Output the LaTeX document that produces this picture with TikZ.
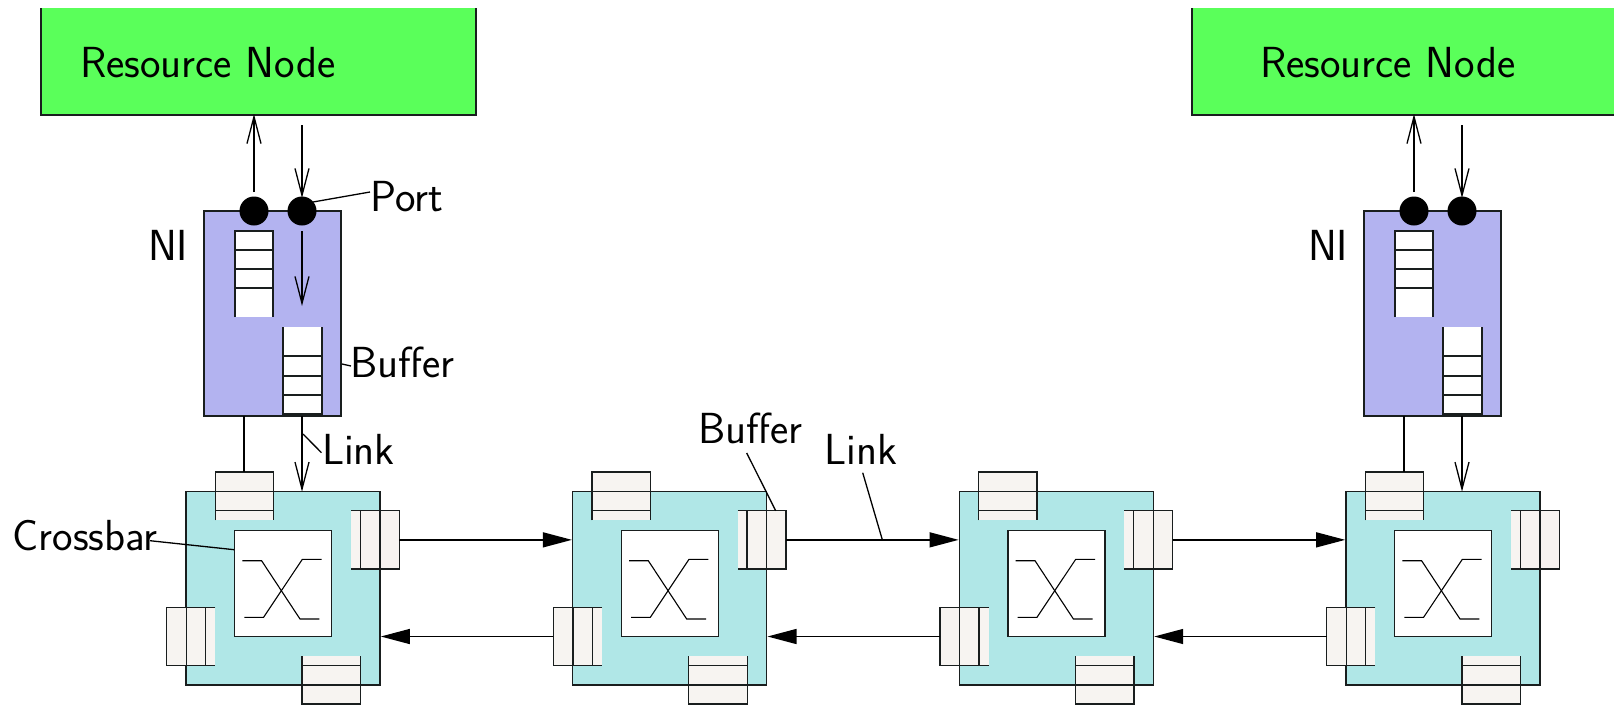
\documentclass[tikz,border=0pt]{standalone}
\usetikzlibrary{arrows.meta}
\definecolor{rngreen}{RGB}{90,255,90}
\definecolor{niblue}{RGB}{179,179,240}
\definecolor{rtcyan}{RGB}{176,231,231}
\definecolor{bufcream}{RGB}{247,244,241}
\definecolor{ink}{RGB}{25,30,30}
\tikzset{
  lnk/.style={line width=1.3pt,draw=ink},
  thinlnk/.style={line width=1.3pt,draw=black},
  openarrow/.style={thinlnk,-{Straight Barb[length=27pt,width=14pt,line width=1.3pt]}},
  solidarrow/.style={thinlnk,-{Triangle[length=29pt,width=15pt]},shorten >=0.8pt},
  block/.style={inner sep=0pt,outer sep=0pt,rectangle},
  port/.style={circle,fill=black,inner sep=0pt,outer sep=0pt,minimum size=29pt},
  lbl/.style={inner sep=0pt,outer sep=0pt,anchor=base west,font=\fontsize{43.5}{48}\selectfont\sffamily,text=black},
}
% #1 name, #2 x1, #3 x2, #4 y1, #5 y2, #6 fill
\newcommand\bufblock[6]{\node[block,fill=#6,minimum width={(#3)-(#2)},minimum height={(#5)-(#4)}] (#1) at ({((#2)+(#3))/2},{((#4)+(#5))/2}) {};}
\newcommand\openB[7]{\bufblock{#1}{#2}{#3}{#4}{#5}{#6}
  \draw[lnk] (#1.south west) -- (#1.north west) -- (#1.north east) -- (#1.south east);
  \foreach \yy in {#7} \draw[lnk] (#1.west |- 0,\yy) -- (#1.east |- 0,\yy);}
\newcommand\openT[7]{\bufblock{#1}{#2}{#3}{#4}{#5}{#6}
  \draw[lnk] (#1.north west) -- (#1.south west) -- (#1.south east) -- (#1.north east);
  \foreach \yy in {#7} \draw[lnk] (#1.west |- 0,\yy) -- (#1.east |- 0,\yy);}
\newcommand\openR[7]{\bufblock{#1}{#2}{#3}{#4}{#5}{#6}
  \draw[lnk] (#1.north east) -- (#1.north west) -- (#1.south west) -- (#1.south east);
  \foreach \xx in {#7} \draw[lnk] (\xx,0 |- #1.north) -- (\xx,0 |- #1.south);}
\newcommand\openL[7]{\bufblock{#1}{#2}{#3}{#4}{#5}{#6}
  \draw[lnk] (#1.north west) -- (#1.north east) -- (#1.south east) -- (#1.south west);
  \foreach \xx in {#7} \draw[lnk] (\xx,0 |- #1.north) -- (\xx,0 |- #1.south);}
\begin{document}
\begin{tikzpicture}[x=1pt,y=-1pt]
\useasboundingbox (0,0) rectangle (1614,705);
% Resource nodes
\node[block,fill=rngreen,minimum width=435pt,minimum height=107pt] (g1) at (258.5,61.5) {};
\draw[lnk] (g1.north west) -- (g1.south west) -- (g1.south east) -- (g1.north east);
\node[block,fill=rngreen,minimum width=422pt,minimum height=107pt] (g2) at (1403,61.5) {};
\draw[lnk] (g2.north west) -- (g2.south west) -- (g2.south east);
\node[lbl] (rn1) at (80,77) {Resource Node};
\node[lbl] (rn2) at (1260,77) {Resource Node};
% Network interfaces
\foreach \i/\dx in {1/0,2/1160}{
  \node[block,draw=ink,line width=1.3pt,fill=niblue,minimum width=137pt,minimum height=205pt] (n\i) at ({272.5+\dx},313.5) {};
  \openB{nb\i}{235+\dx}{273+\dx}{231}{317}{white}{250,269,288}
  \openT{nc\i}{283+\dx}{322+\dx}{327}{414}{white}{356,376,395}
  \node[port] (pa\i) at ({254+\dx},211) {};
  \node[port] (pb\i) at ({302+\dx},211) {};
  \coordinate (ua\i) at ({254+\dx},192);
  \coordinate (da\i) at ({302+\dx},125);
  \draw[openarrow,shorten >=-1pt] (ua\i) -- (ua\i |- g\i.south);
  \draw[openarrow] (da\i) -- ({302+\dx},198);
}
\node[lbl] (ni1) at (148,260) {NI};
\node[lbl] (ni2) at (1308,260) {NI};
% Routers
\foreach \i/\xo/\tbx in {1/186/215.5,2/572.7/592.1,3/959.4/978.8,4/1346/1365.4}{
  \node[block,draw=ink,line width=1.3pt,fill=rtcyan,minimum width=194pt,minimum height=193.3pt] (r\i) at ({\xo+97},588.35) {};
  \openB{tb\i}{\tbx}{\tbx+58.3}{472}{520.3}{bufcream}{491.7,510.7}
  \openL{rb\i}{\xo+165}{\xo+213.3}{510.7}{569}{bufcream}{\xo+174.3,\xo+194}
  \openR{lb\i}{\xo-19.4}{\xo+29.3}{607.3}{665.7}{bufcream}{\xo+0.3,\xo+19.6}
  \openT{bb\i}{\xo+116}{\xo+174.6}{656.3}{704}{bufcream}{665.7,685}
  \node[block,draw=ink,line width=1.3pt,fill=white,minimum width=97pt,minimum height=106.4pt] (x\i) at ({\xo+97.1},583.5) {};
  \draw[thinlnk,line width=1.1pt] ({\xo+56.3},560.7) -- ({\xo+75.6},560.7) -- ({\xo+114},619) -- ({\xo+133.3},619);
  \draw[thinlnk,line width=1.1pt] ({\xo+58.3},617.3) -- ({\xo+77.6},617.3) -- ({\xo+116.3},559.3) -- ({\xo+135.6},559.3);
}
% Links NI - router
\foreach \i/\dx in {1/0,2/1160}{
  \coordinate (ic\i) at ({302+\dx},231);
  \coordinate (ie\i) at ({302+\dx},306);
  \coordinate (lo\i) at ({244+\dx},416);
  \coordinate (li\i) at ({302+\dx},416);
}
\draw[openarrow] (ic1) -- (ie1);
\draw[thinlnk] (lo1) -- (lo1 |- tb1.north);
\draw[thinlnk] (lo2) -- (lo2 |- tb4.north);
\draw[openarrow] (li1) -- (li1 |- r1.north);
\draw[openarrow] (li2) -- (li2 |- r4.north);
% Router links
\foreach \i/\j in {1/2,2/3,3/4}{
  \draw[solidarrow] (rb\i.east) -- (r\j.west |- rb\i.east);
  \draw[solidarrow] (lb\j.west) -- (r\i.east |- lb\j.west);
}
% Labels and leaders
\node[lbl] (lport) at (370,211) {Port};
\node[lbl] (lbuf1) at (350,377) {Buffer};
\node[lbl] (llink1) at (322,464) {Link};
\node[lbl] (lcross) at (12.5,550) {Crossbar};
\node[lbl] (lbuf2) at (698,443) {Buffer};
\node[lbl] (llink2) at (824.5,464) {Link};
\coordinate (q1) at (313,202); \coordinate (q2) at (370,192);
\coordinate (q3) at (342,364); \coordinate (q4) at (351,366);
\coordinate (q5) at (303,434); \coordinate (q6) at (321.5,452.7);
\coordinate (q7) at (150,540.7); \coordinate (q8) at (234.2,549.7);
\coordinate (q9) at (746.7,453); \coordinate (q10) at (775.7,510.7);
\coordinate (q11) at (862.7,472.7); \coordinate (q12) at (882.3,539.7);
\draw[thinlnk] (q1) -- (q2);
\draw[thinlnk] (q3) -- (q4);
\draw[thinlnk] (q5) -- (q6);
\draw[thinlnk] (q7) -- (q8);
\draw[thinlnk] (q9) -- (q10);
\draw[thinlnk] (q11) -- (q12);
\end{tikzpicture}
\end{document}
